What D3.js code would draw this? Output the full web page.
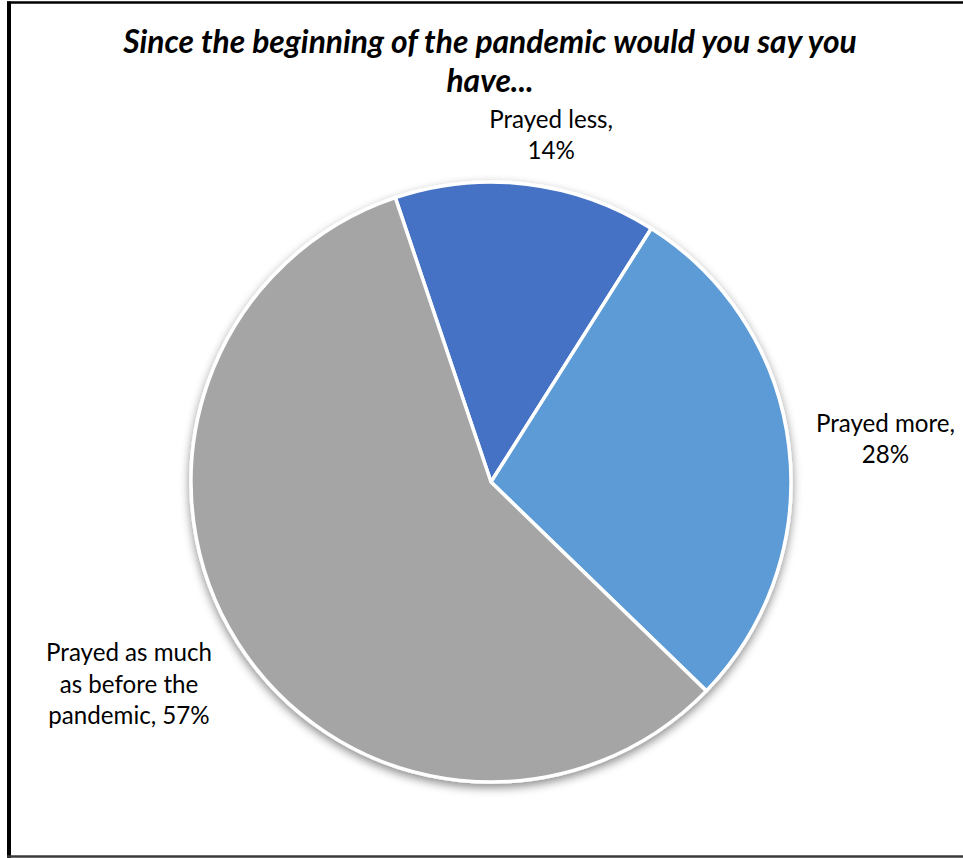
<!DOCTYPE html>
<html>
<head>
<meta charset="utf-8">
<script src="https://cdn.jsdelivr.net/npm/d3@7"></script>
<style>
  html, body { margin: 0; padding: 0; background: #fff; }
  svg { display: block; }
</style>
</head>
<body>
<svg id="chart" width="963" height="858"></svg>
<script>
// ---- data ----
const titleLines = ["Since the beginning of the pandemic would you say you", "have..."];
const categories = ["Prayed less", "Prayed more", "Prayed as much as before the pandemic"];
const values = [14, 28, 57];
const colors = ["#4472C4", "#5B9BD5", "#A5A5A5"];
const lineWordCounts = [[2, 1], [2, 1], [3, 3, 2]];

// ---- layout ----
const W = 963, H = 858;
const cx = 491, cy = 482, R = 300;
const startDeg = -18.6;
// label placement relative to slice mid angle (degrees) and distance from centre
const labelPlace = [{ dA: 3.2, r: 344 }, { dA: 1.8, r: 396 }, { dA: 2.0, r: 419 }];
const labelFont = "Lato, 'Open Sans', sans-serif";
const lineH = 31.5;

const svg = d3.select("#chart");

// frame
svg.append("line").attr("x1", 7).attr("x2", W + 5).attr("y1", 2.5).attr("y2", 2.5)
  .attr("stroke", "#000").attr("stroke-width", 2.5);
svg.append("line").attr("x1", 9).attr("x2", 9).attr("y1", 1.5).attr("y2", H)
  .attr("stroke", "#000").attr("stroke-width", 4);
svg.append("line").attr("x1", 7).attr("x2", W + 5).attr("y1", 856.5).attr("y2", 856.5)
  .attr("stroke", "#3a3a3a").attr("stroke-width", 2.5);

// shadow filter
const defs = svg.append("defs");
const f = defs.append("filter").attr("id", "shadow")
  .attr("x", "-20%").attr("y", "-20%").attr("width", "140%").attr("height", "140%");
f.append("feDropShadow").attr("dx", 0).attr("dy", 4).attr("stdDeviation", 5)
  .attr("flood-color", "#000").attr("flood-opacity", 0.45);

// title (fit font size to reference width)
const title = svg.append("g");
const titleRefWidth = 734;
const tmp = title.append("text").attr("font-family", labelFont).attr("font-weight", "bold")
  .attr("font-style", "italic").attr("font-size", 32).text(titleLines[0]);
const tw = tmp.node().getComputedTextLength();
tmp.remove();
const titleSize = 32 * titleRefWidth / tw;
const titleBaselines = [53, 92];
titleLines.forEach((t, i) => {
  title.append("text")
    .attr("x", 490).attr("y", titleBaselines[i])
    .attr("text-anchor", "middle")
    .attr("font-family", labelFont).attr("font-weight", "bold").attr("font-style", "italic")
    .attr("font-size", titleSize).attr("fill", "#000")
    .text(t);
});

// pie
const pie = d3.pie().sort(null).value(d => d)
  .startAngle(startDeg * Math.PI / 180)
  .endAngle(startDeg * Math.PI / 180 + 2 * Math.PI);
const arcs = pie(values);
const arc = d3.arc().innerRadius(0).outerRadius(R);

const g = svg.append("g").attr("transform", `translate(${cx},${cy})`);
g.append("g").attr("filter", "url(#shadow)")
  .selectAll("path").data(arcs).join("path")
  .attr("d", arc)
  .attr("fill", (d, i) => colors[i])
  .attr("stroke", "#fff").attr("stroke-width", 3.5).attr("stroke-linejoin", "round");

// labels
const tmp2 = svg.append("text").attr("font-family", labelFont).attr("font-size", 26).text("Prayed less,");
const lw = tmp2.node().getComputedTextLength();
tmp2.remove();
const labelSize = 26 * 124 / lw;

arcs.forEach((d, i) => {
  const words = (categories[i] + ", " + values[i] + "%").split(" ");
  const lines = [];
  let k = 0;
  lineWordCounts[i].forEach(n => { lines.push(words.slice(k, k + n).join(" ")); k += n; });
  const mid = (d.startAngle + d.endAngle) / 2 + labelPlace[i].dA * Math.PI / 180;
  const lx = Math.sin(mid) * labelPlace[i].r;
  const ly = -Math.cos(mid) * labelPlace[i].r;
  const t = g.append("text")
    .attr("text-anchor", "middle")
    .attr("font-family", labelFont).attr("font-size", labelSize).attr("fill", "#000");
  lines.forEach((ln, j) => {
    t.append("tspan").attr("x", lx)
      .attr("y", ly + (j - (lines.length - 1) / 2) * lineH)
      .text(ln);
  });
});
</script>
</body>
</html>
